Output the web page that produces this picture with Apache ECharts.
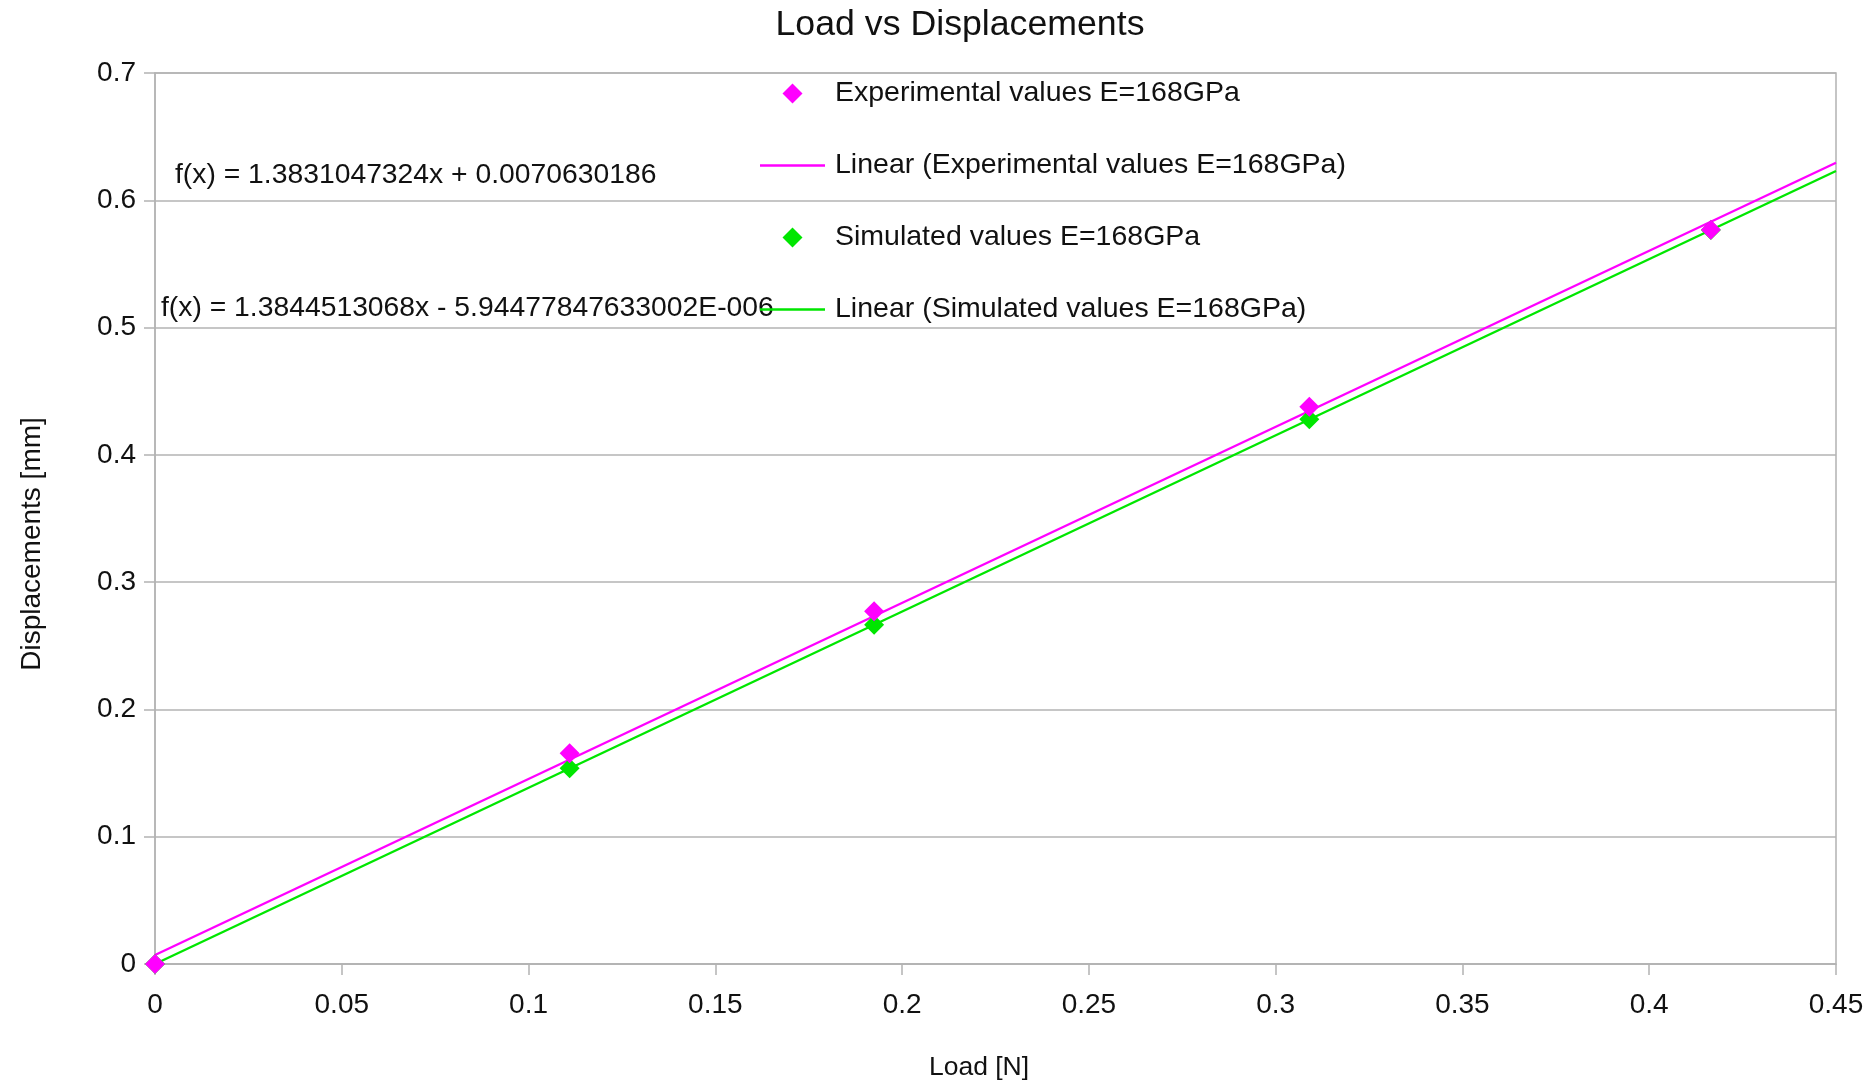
<!DOCTYPE html>
<html>
<head>
<meta charset="utf-8">
<script src="https://cdn.jsdelivr.net/npm/echarts@6/dist/echarts.min.js"></script>
<style>
html,body{margin:0;padding:0;background:#fff;}
#chart{width:1875px;height:1085px;}
</style>
</head>
<body>
<div id="chart"></div>
<script>
var loadN = [0, 0.111, 0.1925, 0.309, 0.4165];
var expDisp = [0, 0.1655, 0.2772, 0.4378, 0.5769];
var simDisp = [0, 0.1537, 0.2665, 0.4279, 0.5767];
var expFit = {slope: 1.3831047324, intercept: 0.0070630186};
var simFit = {slope: 1.3844513068, intercept: -5.94477847633002E-006};
var expEqText = 'f(x) = 1.3831047324x + 0.0070630186';
var simEqText = 'f(x) = 1.3844513068x - 5.94477847633002E-006';
var seriesNames = ['Experimental values E=168GPa', 'Linear (Experimental values E=168GPa)', 'Simulated values E=168GPa', 'Linear (Simulated values E=168GPa)'];
var titleText = 'Load vs Displacements';
var xName = 'Load [N]', yName = 'Displacements [mm]';
var xMin = 0, xMax = 0.45, yMin = 0, yMax = 0.7;

var FONT = 'Liberation Sans';
var MAG = '#ff00ff', GRN = '#00e600';
var DIAMOND = 'path://M0,-1L1,0L0,1L-1,0Z';
var LINEICON = 'path://M0,0L65,0L65,2.4L0,2.4Z';

function pairs(xs, ys){ return xs.map(function(x,i){ return [x, ys[i]]; }); }
function trend(f){ return [[xMin, f.slope*xMin + f.intercept],[xMax, f.slope*xMax + f.intercept]]; }

var chart = echarts.init(document.getElementById('chart'));
chart.setOption({
  animation: false,
  backgroundColor: '#fff',
  grid: {left: 155, right: 39, top: 73, bottom: 121, show: true, borderColor: '#b3b3b3', borderWidth: 1.5, containLabel: false},
  xAxis: {
    type: 'value', min: xMin, max: xMax, interval: 0.05,
    axisLine: {show: true, lineStyle: {color: '#b3b3b3', width: 1.5}},
    axisTick: {show: true, length: 11, lineStyle: {color: '#b3b3b3', width: 1.5}},
    axisLabel: {fontFamily: FONT, fontSize: 28, color: '#111', margin: 27},
    splitLine: {show: false}
  },
  yAxis: {
    type: 'value', min: yMin, max: yMax, interval: 0.1,
    axisLine: {show: true, lineStyle: {color: '#b3b3b3', width: 1.5}},
    axisTick: {show: true, length: 11, lineStyle: {color: '#b3b3b3', width: 1.5}},
    axisLabel: {fontFamily: FONT, fontSize: 28, color: '#111', margin: 19},
    splitLine: {show: true, lineStyle: {color: '#b3b3b3', width: 1.5}}
  },
  legend: {
    orient: 'vertical', left: 760, top: 79, padding: 0,
    itemWidth: 65, itemHeight: 20, itemGap: 43,
    symbolKeepAspect: true,
    textStyle: {fontFamily: FONT, fontSize: 28.5, color: '#111', padding: [0,0,0,5]},
    data: [
      {name: seriesNames[0], icon: DIAMOND},
      {name: seriesNames[1], icon: LINEICON},
      {name: seriesNames[2], icon: DIAMOND},
      {name: seriesNames[3], icon: LINEICON}
    ]
  },
  graphic: [
    {type: 'text', x: 960, y: 25, style: {text: titleText, font: '35.7px "Liberation Sans"', fill: '#111', textAlign: 'center', textVerticalAlign: 'middle'}},
    {type: 'text', x: 175, y: 175, style: {text: expEqText, font: '28.3px "Liberation Sans"', fill: '#111', textVerticalAlign: 'middle'}},
    {type: 'text', x: 161, y: 308, style: {text: simEqText, font: '28.3px "Liberation Sans"', fill: '#111', textVerticalAlign: 'middle'}},
    {type: 'text', x: 979, y: 1068, style: {text: xName, font: '26.5px "Liberation Sans"', fill: '#111', textAlign: 'center', textVerticalAlign: 'middle'}},
    {type: 'text', x: 32, y: 544, rotation: Math.PI/2, style: {text: yName, font: '28px "Liberation Sans"', fill: '#111', textAlign: 'center', textVerticalAlign: 'middle'}}
  ],
  series: [
    {name: seriesNames[3], type: 'line', data: trend(simFit), symbol: 'none', lineStyle: {color: GRN, width: 2.4}, itemStyle: {color: GRN}, z: 2},
    {name: seriesNames[1], type: 'line', data: trend(expFit), symbol: 'none', lineStyle: {color: MAG, width: 2.4}, itemStyle: {color: MAG}, z: 3},
    {name: seriesNames[2], type: 'scatter', data: pairs(loadN, simDisp), symbol: 'diamond', symbolSize: 20, itemStyle: {color: GRN, opacity: 1}, z: 4},
    {name: seriesNames[0], type: 'scatter', data: pairs(loadN, expDisp), symbol: 'diamond', symbolSize: 20, itemStyle: {color: MAG, opacity: 1}, z: 5}
  ]
});
</script>
</body>
</html>
